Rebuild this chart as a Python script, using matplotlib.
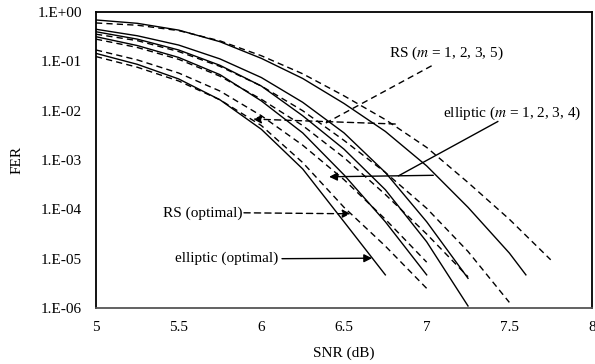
import numpy as np
import matplotlib
matplotlib.use("Agg")
import matplotlib.pyplot as plt

plt.rcParams['font.family'] = ['Liberation Serif', 'DejaVu Serif']
plt.rcParams['mathtext.fontset'] = 'stix'

# elliptic curves (solid): SNR points and FER values
ell_m1_snr = [5.0, 5.25, 5.5, 5.75, 6.0, 6.25, 6.5, 6.75, 7.0, 7.25, 7.5, 7.6]
ell_m1_fer = [6.9e-1, 5.9e-1, 4.3e-1, 2.5e-1, 1.15e-1, 4.5e-2, 1.4e-2, 3.8e-3, 7.6e-4, 1.1e-4, 1.3e-5, 4.7e-6]
ell_m2_snr = [5.0, 5.25, 5.5, 5.75, 6.0, 6.25, 6.5, 6.75, 7.0, 7.25]
ell_m2_fer = [4.47e-1, 3.3e-1, 2.14e-1, 1.12e-1, 4.7e-2, 1.48e-2, 3.55e-3, 5.6e-4, 5.6e-5, 4.0e-6]
ell_m3_snr = [5.0, 5.25, 5.5, 5.75, 6.0, 6.25, 6.5, 6.75, 7.0, 7.25]
ell_m3_fer = [3.98e-1, 2.82e-1, 1.7e-1, 8.3e-2, 3.16e-2, 7.9e-3, 1.66e-3, 2.5e-4, 2.2e-5, 1.1e-6]
ell_m4_snr = [5.0, 5.25, 5.5, 5.75, 6.0, 6.25, 6.5, 6.75, 7.0]
ell_m4_fer = [3.16e-1, 2.09e-1, 1.2e-1, 5.37e-2, 1.58e-2, 3.55e-3, 5.0e-4, 5.6e-5, 4.7e-6]
ell_opt_snr = [5.0, 5.25, 5.5, 5.75, 6.0, 6.25, 6.5, 6.75]
ell_opt_fer = [1.45e-1, 8.7e-2, 4.4e-2, 1.66e-2, 4.2e-3, 6.6e-4, 5.6e-5, 4.7e-6]

# RS curves (dashed)
rs_m1_snr = [5.0, 5.25, 5.5, 5.75, 6.0, 6.25, 6.5, 6.75, 7.0, 7.25, 7.5, 7.75]
rs_m1_fer = [6.0e-1, 5.4e-1, 4.2e-1, 2.6e-1, 1.3e-1, 5.6e-2, 2.0e-2, 6.6e-3, 1.8e-3, 3.5e-4, 6.3e-5, 9.5e-6]
rs_m2_snr = [5.0, 5.25, 5.5, 5.75, 6.0, 6.25, 6.5, 6.75, 7.0, 7.25, 7.5]
rs_m2_fer = [3.55e-1, 2.63e-1, 1.58e-1, 7.9e-2, 3.16e-2, 1.0e-2, 2.5e-3, 5.6e-4, 1.05e-4, 1.4e-5, 1.3e-6]
rs_m3_snr = [5.0, 5.25, 5.5, 5.75, 6.0, 6.25, 6.5, 6.75, 7.0, 7.25]
rs_m3_fer = [2.82e-1, 1.91e-1, 1.1e-1, 5.0e-2, 1.7e-2, 5.0e-3, 1.12e-3, 2.0e-4, 3.16e-5, 4.3e-6]
rs_m5_snr = [5.0, 5.25, 5.5, 5.75, 6.0, 6.25, 6.5, 6.75, 7.0]
rs_m5_fer = [1.7e-1, 1.07e-1, 5.8e-2, 2.5e-2, 7.9e-3, 2.0e-3, 4.0e-4, 6.3e-5, 8.5e-6]
rs_opt_snr = [5.0, 5.25, 5.5, 5.75, 6.0, 6.25, 6.5, 6.75, 7.0]
rs_opt_fer = [1.25e-1, 7.6e-2, 4.0e-2, 1.66e-2, 5.0e-3, 8.9e-4, 1.1e-4, 1.8e-5, 2.5e-6]

x_ticks = [5, 5.5, 6, 6.5, 7, 7.5, 8]
x_tick_labels = ['5', '5.5', '6', '6.5', '7', '7.5', '8']
y_ticks = [1e0, 1e-1, 1e-2, 1e-3, 1e-4, 1e-5, 1e-6]
y_tick_labels = ['1.E+00', '1.E-01', '1.E-02', '1.E-03', '1.E-04', '1.E-05', '1.E-06']

fig = plt.figure(figsize=(5.95, 3.64), dpi=100)
ax = fig.add_axes([0.1613, 0.1538, 0.8337, 0.8132])

lw = 1.0
dash = (4.5, 3)
for s, f in [(ell_m1_snr, ell_m1_fer), (ell_m2_snr, ell_m2_fer), (ell_m3_snr, ell_m3_fer),
             (ell_m4_snr, ell_m4_fer), (ell_opt_snr, ell_opt_fer)]:
    ax.plot(s, f, color='black', lw=lw)
for s, f in [(rs_m1_snr, rs_m1_fer), (rs_m2_snr, rs_m2_fer), (rs_m3_snr, rs_m3_fer),
             (rs_m5_snr, rs_m5_fer), (rs_opt_snr, rs_opt_fer)]:
    ax.plot(s, f, color='black', lw=lw, dashes=dash)

ax.set_yscale('log')
ax.set_xlim(5, 8)
ax.set_ylim(1e-6, 1e0)
ax.set_xticks(x_ticks)
ax.set_xticklabels(x_tick_labels)
ax.set_yticks(y_ticks)
ax.set_yticklabels(y_tick_labels)
ax.minorticks_off()
ax.tick_params(length=0, labelsize=11)
ax.tick_params(axis='y', pad=10)
ax.tick_params(axis='x', pad=9)
for sp in ax.spines.values():
    sp.set_linewidth(1.3)
ax.spines['bottom'].set_color('#555555')
ax.set_xlabel('SNR (dB)', fontsize=11, labelpad=9)
ax.set_ylabel('FER', fontsize=11, labelpad=10)

# annotations
arrow = dict(arrowstyle='-|>', color='black', lw=lw, mutation_scale=12, shrinkA=0, shrinkB=0)
arrow_dashed = dict(arrow, linestyle=(0, dash))

ax.text(6.77, 10**-0.83, 'RS ($m$ = 1, 2, 3, 5)', fontsize=11, va='center', ha='left')
ax.plot([7.03, 6.39], [10**-1.09, 10**-2.25], color='black', lw=lw, dashes=dash)
ax.annotate('', xy=(5.95, 10**-2.17), xytext=(6.81, 10**-2.27), arrowprops=arrow_dashed)

ax.text(7.1, 10**-2.05, 'elliptic ($m$ = 1, 2, 3, 4)', fontsize=11, va='center', ha='left')
ax.plot([7.43, 6.83], [10**-2.22, 10**-3.32], color='black', lw=lw)
ax.annotate('', xy=(6.41, 10**-3.34), xytext=(7.04, 10**-3.31), arrowprops=arrow)

ax.text(5.885, 10**-4.07, 'RS (optimal)', fontsize=11, va='center', ha='right')
ax.annotate('', xy=(6.54, 10**-4.09), xytext=(5.895, 10**-4.07), arrowprops=arrow_dashed)

ax.text(6.1, 10**-5.0, 'elliptic (optimal)', fontsize=11, va='center', ha='right')
ax.annotate('', xy=(6.67, 10**-4.99), xytext=(6.125, 10**-5.0), arrowprops=arrow)

fig.savefig('out.png', dpi=100)
